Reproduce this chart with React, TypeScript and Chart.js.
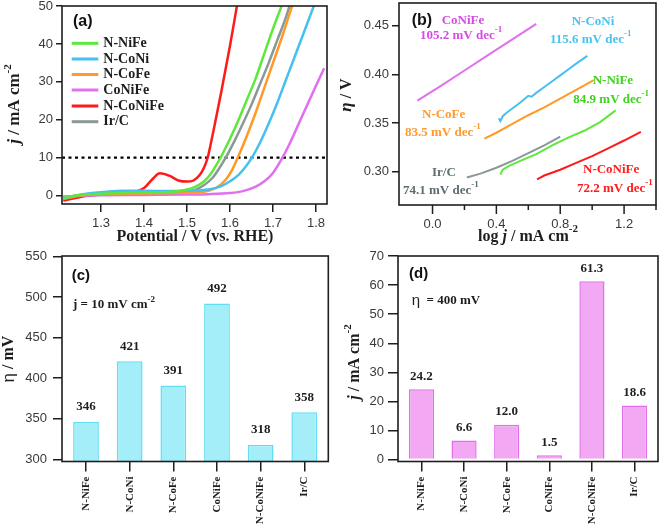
import React, { useEffect, useRef } from 'react';
import { Chart, registerables } from 'chart.js';

Chart.register(...registerables);

const W = 661;
const H = 528;
const SERIF = '"Liberation Serif", "Times New Roman", Times, serif';
const SANS = '"Liberation Sans", Arial, Helvetica, sans-serif';
const INK = '#1e1e1e';
const TICK_TXT = '#3a3a3a';

// ---------- Panel (a): LSV curves ----------
const seriesNames = ['N-NiFe', 'N-CoNi', 'N-CoFe', 'CoNiFe', 'N-CoNiFe', 'Ir/C'];
const seriesColors = ['#5ee83a', '#45c0f0', '#ff9a26', '#e070ee', '#ff1a1a', '#8a9898'];

const nNiFeV = [1.212, 1.25, 1.30, 1.35, 1.40, 1.45, 1.50, 1.52, 1.54, 1.555, 1.565, 1.578, 1.60, 1.62, 1.64, 1.66, 1.68, 1.70, 1.722];
const nNiFeJ = [-0.6, 0.2, 0.5, 0.7, 0.8, 0.9, 1.6, 2.4, 3.8, 5.7, 7.5, 10, 15, 20, 25.5, 31, 37.5, 44, 50.6];

const nCoNiV = [1.212, 1.24, 1.27, 1.30, 1.35, 1.40, 1.45, 1.50, 1.55, 1.58, 1.60, 1.62, 1.635, 1.651, 1.67, 1.69, 1.71, 1.73, 1.75, 1.77, 1.797];
const nCoNiJ = [-0.9, 0.0, 0.6, 0.9, 1.3, 1.3, 1.2, 1.3, 1.6, 2.5, 3.8, 5.5, 7.4, 10, 14, 19, 24.5, 30.5, 36.5, 42.5, 50.6];

const nCoFeV = [1.212, 1.25, 1.30, 1.40, 1.50, 1.55, 1.57, 1.59, 1.605, 1.618, 1.64, 1.66, 1.68, 1.70, 1.72, 1.746];
const nCoFeJ = [-0.9, 0.0, 0.4, 0.6, 0.8, 1.3, 2.2, 4.2, 6.8, 10, 16, 22, 28.5, 35, 41.5, 50.6];

const coNiFeV = [1.212, 1.30, 1.40, 1.50, 1.55, 1.60, 1.63, 1.66, 1.68, 1.70, 1.722, 1.74, 1.76, 1.78, 1.80, 1.819];
const coNiFeJ = [-0.2, 0.1, 0.2, 0.3, 0.4, 0.7, 1.2, 2.4, 3.8, 6.0, 10, 14, 19, 24, 29, 33.6];

const nCoNiFeV = [1.212, 1.24, 1.27, 1.30, 1.34, 1.38, 1.40, 1.42, 1.437, 1.46, 1.48, 1.50, 1.515, 1.53, 1.54, 1.548, 1.555, 1.565, 1.58, 1.60, 1.617];
const nCoNiFeJ = [-1.3, -0.6, 0.0, 0.3, 0.6, 1.0, 2.0, 4.4, 5.9, 5.2, 4.0, 3.7, 4.0, 5.5, 7.5, 10, 13.5, 19, 27.5, 39.5, 50.6];

const irCV = [1.212, 1.25, 1.30, 1.40, 1.50, 1.52, 1.54, 1.56, 1.575, 1.59, 1.61, 1.63, 1.65, 1.67, 1.69, 1.71, 1.73, 1.74];
const irCJ = [-0.5, 0.1, 0.4, 0.7, 1.0, 1.6, 2.8, 4.8, 7.2, 10, 14.3, 19, 24, 29.5, 35, 41, 47, 50.6];

const refCurrent = 10;
const aXMin = 1.2093;
const aXMax = 1.8256;
const aYMin = -2.2;
const aYMax = 50;

// ---------- Panel (b): Tafel plots ----------
const tafelSlopes = ['84.9', '115.6', '83.5', '105.2', '72.2', '74.1'];
const tafelTextColors = ['#3ed41c', '#45c4f0', '#ff9a30', '#d84ae8', '#ff1c1c', '#5e6e70'];

const tNiFeLogJ = [0.425, 0.44, 0.48, 0.55, 0.65, 0.75, 0.85, 0.95, 1.05, 1.147];
const tNiFeEta = [0.297, 0.302, 0.306, 0.311, 0.318, 0.327, 0.335, 0.342, 0.351, 0.363];
const tCoNiLogJ = [0.415, 0.425, 0.44, 0.46, 0.50, 0.55, 0.60, 0.62, 0.65, 0.70, 0.75, 0.80, 0.85, 0.90, 0.97];
const tCoNiEta = [0.355, 0.352, 0.357, 0.360, 0.365, 0.371, 0.378, 0.377, 0.381, 0.387, 0.393, 0.399, 0.405, 0.411, 0.419];
const tCoFeLogJ = [0.325, 0.40, 0.50, 0.60, 0.70, 0.80, 0.90, 1.01];
const tCoFeEta = [0.334, 0.340, 0.349, 0.358, 0.366, 0.375, 0.384, 0.394];
const tCoNiFeLogJ = [-0.095, 0.05, 0.2, 0.35, 0.5, 0.65];
const tCoNiFeEta = [0.373, 0.388, 0.404, 0.420, 0.436, 0.452];
const tNCoNiFeLogJ = [0.655, 0.70, 0.80, 0.90, 1.00, 1.10, 1.20, 1.305];
const tNCoNiFeEta = [0.292, 0.296, 0.302, 0.309, 0.316, 0.324, 0.332, 0.341];
const tIrCLogJ = [0.215, 0.30, 0.40, 0.50, 0.60, 0.70, 0.80];
const tIrCEta = [0.294, 0.298, 0.304, 0.311, 0.319, 0.327, 0.336];

// ---------- Panels (c), (d): bars ----------
const catNames = ['N-NiFe', 'N-CoNi', 'N-CoFe', 'CoNiFe', 'N-CoNiFe', 'Ir/C'];
const overpotentials = [346, 421, 391, 492, 318, 358];
const currentsAt400 = [24.2, 6.6, 12.0, 1.5, 61.3, 18.6];

// ---------- helpers ----------
const bold = (s: number) => `bold ${s}px ${SERIF}`;
const boldIt = (s: number) => `italic bold ${s}px ${SERIF}`;
const sansB = (s: number) => `bold ${s}px ${SANS}`;
const sansR = (s: number) => `${s}px ${SANS}`;

type Seg = { t: string; f: string; dy?: number };

function rich(ctx: any, segs: Seg[], x: number, y: number, align: string, color: string, rot = 0) {
  ctx.save();
  ctx.translate(x, y);
  if (rot) ctx.rotate(rot);
  ctx.fillStyle = color;
  ctx.textBaseline = 'middle';
  ctx.textAlign = 'left';
  let total = 0;
  const ws = segs.map((s) => {
    ctx.font = s.f;
    const w = ctx.measureText(s.t).width;
    total += w;
    return w;
  });
  let cx = align === 'left' ? 0 : align === 'center' ? -total / 2 : -total;
  segs.forEach((s, i) => {
    ctx.font = s.f;
    ctx.fillText(s.t, cx, s.dy || 0);
    cx += ws[i];
  });
  ctx.restore();
}

function decoPlugin(draw: (chart: any, ctx: any) => void) {
  return {
    id: 'deco',
    afterDraw(chart: any) {
      const { ctx, chartArea: a } = chart;
      ctx.save();
      ctx.strokeStyle = INK;
      ctx.lineWidth = 1.6;
      ctx.strokeRect(a.left, a.top, a.right - a.left, a.bottom - a.top);
      ctx.restore();
      draw(chart, ctx);
    },
  };
}

function fixAxis(size: number, horizontal: boolean) {
  return (s: any) => {
    if (horizontal) s.height = size;
    else s.width = size;
    s.paddingLeft = 0;
    s.paddingRight = 0;
    s.paddingTop = 0;
    s.paddingBottom = 0;
  };
}

const grid = (len: number) => ({
  display: true,
  drawOnChartArea: false,
  drawTicks: true,
  tickLength: len,
  color: INK,
  lineWidth: 1.5,
  offset: false,
});

const tickFont = { family: SANS, size: 13 };

const baseOptions = (padding: any) => ({
  responsive: false,
  animation: false,
  devicePixelRatio: 1,
  layout: { padding },
  plugins: { legend: { display: false }, tooltip: { enabled: false } },
});

// ---------- configs ----------
function configA() {
  const xs = [nNiFeV, nCoNiV, nCoFeV, coNiFeV, nCoNiFeV, irCV];
  const ys = [nNiFeJ, nCoNiJ, nCoFeJ, coNiFeJ, nCoNiFeJ, irCJ];
  const datasets: any[] = seriesNames.map((name, k) => ({
    label: name,
    data: xs[k].map((x, i) => ({ x, y: ys[k][i] })),
    borderColor: seriesColors[k],
    borderWidth: 2.5,
    pointRadius: 0,
    cubicInterpolationMode: 'monotone',
    fill: false,
  }));
  datasets.push({
    label: 'ref',
    data: [{ x: aXMin, y: refCurrent }, { x: aXMax, y: refCurrent }],
    borderColor: '#000',
    borderWidth: 2.3,
    borderDash: [3, 3.5],
    pointRadius: 0,
    fill: false,
  });
  return {
    type: 'line',
    data: { datasets },
    options: {
      ...baseOptions({ left: 0, top: 6, right: W - 327, bottom: H - 204 - 60 }),
      scales: {
        x: {
          type: 'linear', min: aXMin, max: aXMax, afterFit: fixAxis(60, true),
          border: { display: false }, grid: grid(8),
          ticks: { stepSize: 0.1, includeBounds: false, autoSkip: false, maxRotation: 0, font: tickFont, color: TICK_TXT, padding: 4, callback: (v: number) => v.toFixed(1) },
        },
        y: {
          type: 'linear', min: aYMin, max: aYMax, afterFit: fixAxis(62, false),
          border: { display: false }, grid: grid(6),
          ticks: { stepSize: 10, includeBounds: false, font: tickFont, color: TICK_TXT, padding: 3, callback: (v: number) => String(v) },
        },
      },
    },
    plugins: [decoPlugin((chart, ctx) => {
      rich(ctx, [{ t: '(a)', f: sansB(16) }], 73, 22, 'left', '#111');
      const rows = [43.3, 59, 74.5, 90, 106, 121.7];
      seriesNames.forEach((name, k) => {
        const ds = chart.data.datasets[k];
        ctx.save();
        ctx.strokeStyle = ds.borderColor;
        ctx.lineWidth = 3;
        ctx.beginPath();
        ctx.moveTo(71.7, rows[k]);
        ctx.lineTo(98.3, rows[k]);
        ctx.stroke();
        ctx.restore();
        rich(ctx, [{ t: ds.label, f: bold(14) }], 103.3, rows[k], 'left', INK);
      });
      rich(ctx, [{ t: 'Potential / V (vs. RHE)', f: bold(16) }], 195, 237, 'center', INK);
      rich(ctx, [{ t: 'j', f: boldIt(17) }, { t: ' / mA cm', f: bold(17) }, { t: '-2', f: bold(11), dy: -7 }], 15, 104, 'center', INK, -Math.PI / 2);
    })],
  };
}

function configB() {
  const xs = [tNiFeLogJ, tCoNiLogJ, tCoFeLogJ, tCoNiFeLogJ, tNCoNiFeLogJ, tIrCLogJ];
  const ys = [tNiFeEta, tCoNiEta, tCoFeEta, tCoNiFeEta, tNCoNiFeEta, tIrCEta];
  const datasets = seriesNames.map((name, k) => ({
    label: name,
    data: xs[k].map((x, i) => ({ x, y: ys[k][i] })),
    borderColor: seriesColors[k],
    borderWidth: 2,
    pointRadius: 0,
    tension: 0,
    fill: false,
  }));
  const notes = [
    { nx: 592.7, ny: 81, sx: 573.3, sy: 100 },
    { nx: 571.7, ny: 21.7, sx: 550, sy: 40 },
    { nx: 422, ny: 114.5, sx: 405, sy: 133 },
    { nx: 441.7, ny: 20.7, sx: 420, sy: 36 },
    { nx: 583, ny: 170, sx: 577, sy: 188.5 },
    { nx: 432, ny: 172.5, sx: 403, sy: 191 },
  ];
  return {
    type: 'line',
    data: { datasets },
    options: {
      ...baseOptions({ left: 399 - 60, top: 3, right: W - 656, bottom: H - 205 - 50 }),
      scales: {
        x: {
          type: 'linear', min: -0.21, max: 1.4, afterFit: fixAxis(50, true),
          border: { display: false }, grid: { display: false, drawTicks: false },
          afterBuildTicks: (s: any) => { s.ticks = s.ticks.filter((t: any) => t.value > -0.001 && t.value < 1.41); },
          ticks: {
            stepSize: 0.2, includeBounds: false, autoSkip: false, maxRotation: 0, font: tickFont, color: TICK_TXT, padding: 12,
            callback: (v: number) => { const r = v / 0.4; return Math.abs(r - Math.round(r)) < 1e-6 ? v.toFixed(1) : ''; },
          },
        },
        y: {
          type: 'linear', min: 0.2657, max: 0.4734, afterFit: fixAxis(60, false),
          border: { display: false }, grid: grid(7),
          ticks: { stepSize: 0.05, includeBounds: false, font: tickFont, color: TICK_TXT, padding: 3, callback: (v: number) => v.toFixed(2) },
        },
      },
    },
    plugins: [decoPlugin((chart, ctx) => {
      const xsScale = chart.scales.x;
      const bottom = chart.chartArea.bottom;
      ctx.save();
      ctx.strokeStyle = INK;
      ctx.lineWidth = 1.5;
      xsScale.ticks.forEach((t: any) => {
        const px = xsScale.getPixelForValue(t.value);
        const len = t.label ? 9 : 5;
        ctx.beginPath();
        ctx.moveTo(px, bottom);
        ctx.lineTo(px, bottom + len);
        ctx.stroke();
      });
      ctx.restore();
      rich(ctx, [{ t: '(b)', f: sansB(16) }], 411.7, 20.7, 'left', '#111');
      notes.forEach((n, k) => {
        const c = tafelTextColors[k];
        rich(ctx, [{ t: seriesNames[k], f: bold(13) }], n.nx, n.ny, 'left', c);
        rich(ctx, [{ t: `${tafelSlopes[k]} mV dec`, f: bold(13) }, { t: '-1', f: bold(9), dy: -6 }], n.sx, n.sy, 'left', c);
      });
      rich(ctx, [{ t: 'log ', f: bold(16) }, { t: 'j', f: boldIt(16) }, { t: ' / mA cm', f: bold(16) }, { t: '-2', f: bold(11), dy: -8 }], 528, 237, 'center', INK);
      rich(ctx, [{ t: 'η', f: `italic bold 17px ${SERIF}` }, { t: ' / V', f: bold(16) }], 347, 95, 'center', INK, -Math.PI / 2);
    })],
  };
}

function barConfig(values: number[], fillC: string, borderC: string, yMin: number, yMax: number, step: number, yWidth: number,
  padLeft: number, padRight: number, yTick: number, yPad: number, gap: number, fmt: (v: number) => string, draw: (chart: any, ctx: any) => void) {
  return {
    type: 'bar',
    data: {
      datasets: [{
        label: 'bars',
        data: values.map((v, i) => ({ x: i, y: v })),
        backgroundColor: fillC,
        borderColor: borderC,
        borderWidth: 1.5,
        barPercentage: 0.59,
        categoryPercentage: 1,
      }],
    },
    options: {
      ...baseOptions({ left: padLeft, top: 256, right: padRight, bottom: 0 }),
      scales: {
        x: {
          type: 'linear', offset: false, min: -0.55, max: 5.55, afterFit: fixAxis(H - 461.5, true),
          border: { display: false }, grid: grid(10),
          ticks: {
            stepSize: 1, includeBounds: false, autoSkip: false, minRotation: 90, maxRotation: 90,
            font: { family: SERIF, size: 11, weight: 'bold' }, color: INK, padding: 5,
            callback: (v: number) => catNames[v] ?? '',
          },
        },
        y: {
          type: 'linear', min: yMin, max: yMax, afterFit: fixAxis(yWidth, false),
          border: { display: false }, grid: grid(yTick),
          ticks: { stepSize: step, includeBounds: false, font: tickFont, color: TICK_TXT, padding: yPad, callback: (v: number) => String(v) },
        },
      },
    },
    plugins: [decoPlugin((chart, ctx) => {
      const xs = chart.scales.x;
      const ys = chart.scales.y;
      values.forEach((v, i) => {
        rich(ctx, [{ t: fmt(v), f: bold(13) }], xs.getPixelForValue(i), ys.getPixelForValue(v) - gap, 'center', INK);
      });
      draw(chart, ctx);
    })],
  };
}

function configC() {
  return barConfig(overpotentials, '#a4eefa', '#62def2', 297.5, 550.4, 50, 62, 0, W - 328.3, 9, 6, 15, (v) => String(v), (chart, ctx) => {
    rich(ctx, [{ t: '(c)', f: sansB(15) }], 71.7, 276, 'left', '#111');
    rich(ctx, [{ t: 'j = 10 mV cm', f: bold(13) }, { t: '-2', f: bold(9), dy: -5 }], 73, 305, 'left', INK);
    rich(ctx, [{ t: 'η', f: sansR(17) }, { t: ' / mV', f: bold(16) }], 9, 359, 'center', INK, -Math.PI / 2);
  });
}

function configD() {
  return barConfig(currentsAt400, '#f2a8f2', '#e070ea', -0.65, 70, 10, 58, 398 - 58, W - 658, 10, 4, 13, (v) => v.toFixed(1), (chart, ctx) => {
    rich(ctx, [{ t: '(d)', f: sansB(15) }], 409, 274, 'left', '#111');
    rich(ctx, [{ t: 'η', f: sansR(15) }, { t: '  = 400 mV', f: bold(13) }], 411.7, 301, 'left', INK);
    rich(ctx, [{ t: 'j', f: boldIt(16) }, { t: ' / mA cm', f: bold(16) }, { t: '-2', f: bold(11), dy: -7 }], 355, 362, 'center', INK, -Math.PI / 2);
  });
}

function Panel({ make }: { make: () => any }) {
  const ref = useRef<HTMLCanvasElement>(null);
  useEffect(() => {
    const chart = new Chart(ref.current as HTMLCanvasElement, make());
    return () => chart.destroy();
  }, [make]);
  return (
    <canvas
      ref={ref}
      width={W}
      height={H}
      style={{ position: 'absolute', left: 0, top: 0, width: W, height: H, display: 'block' }}
    />
  );
}

export default function App() {
  return (
    <div style={{ position: 'fixed', left: 0, top: 0, width: W, height: H, background: '#ffffff', overflow: 'hidden' }}>
      <Panel make={configA} />
      <Panel make={configB} />
      <Panel make={configC} />
      <Panel make={configD} />
    </div>
  );
}
